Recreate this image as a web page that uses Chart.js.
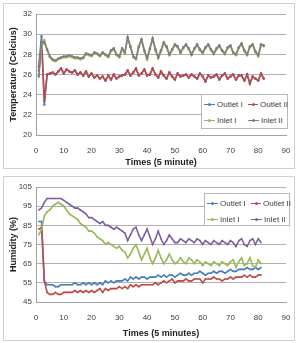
<!DOCTYPE html>
<html lang="en">
<head>
    <meta charset="UTF-8">
    <title>Temperature and Humidity</title>
    <script src="https://cdn.jsdelivr.net/npm/chart.js"></script>
    <style>
        body { margin: 0; background: #fff; width: 298px; height: 343px; position: relative; overflow: hidden; }
        .frame { position: absolute; border: 1px solid #d0d0d0; background: #fff; }
        .frame canvas { position: absolute; left: 0; top: 0; }
        .legend {
            position: absolute; border: 1px solid #b8b8b8; background: #fff;
            font-family: "Liberation Sans Narrow", "Liberation Sans", Arial, sans-serif;
            font-size: 8px; color: #404040;
            display: grid; grid-template-columns: 44px 40px; row-gap: 7px;
            padding: 5px 0 5px 2px; box-sizing: border-box;
        }
        .legend span { display: flex; align-items: center; white-space: nowrap; }
        .legend i { display: inline-block; width: 11px; height: 1.5px; margin-right: 2px; position: relative; }
        .legend i::after { content: ""; position: absolute; left: 4px; top: -1px; width: 3px; height: 3px; border-radius: 50%; background: inherit; }
    </style>
</head>
<body>
    <div class="frame" style="left:3px;top:3px;width:290px;height:164px;">
        <canvas id="tempChart" width="290" height="164"></canvas>
        <div class="legend" style="left:197px;top:90px;width:87px;height:35px;">
            <span><i style="background:#4a7ebb"></i>Outlet I</span>
            <span><i style="background:#be4b48"></i>Outlet II</span>
            <span><i style="background:#98b954"></i>Inlet I</span>
            <span><i style="background:#7f7f7f"></i>Inlet II</span>
        </div>
    </div>
    <div class="frame" style="left:3px;top:176px;width:290px;height:163px;">
        <canvas id="humChart" width="290" height="163"></canvas>
        <div class="legend" style="left:200px;top:16px;width:86px;height:33px;">
            <span><i style="background:#4a7ebb"></i>Outlet I</span>
            <span><i style="background:#be4b48"></i>Outlet II</span>
            <span><i style="background:#98b954"></i>Inlet I</span>
            <span><i style="background:#7d60a0"></i>Inlet II</span>
        </div>
    </div>

    <script>
        // Temperature chart, x = 1..82
        const tempOutlet1 = [26.8, 29.8, 23.0, 26.0, 26.1, 26.2, 26.0, 26.3, 26.6, 26.1, 26.5, 26.3, 26.2, 26.4, 26.0, 26.2, 25.9, 26.3, 25.8, 26.1,
            25.7, 25.9, 25.6, 25.8, 25.4, 25.9, 25.5, 26.0, 25.6, 25.8, 25.9, 26.0, 26.4, 25.9, 26.2, 26.6, 25.9, 26.1, 26.5, 25.9,
            26.0, 26.6, 26.0, 25.7, 26.3, 25.9, 25.6, 26.2, 25.8, 25.5, 26.1, 25.8, 25.9, 26.0, 25.7, 26.0, 25.8, 25.6, 26.1, 25.8,
            25.3, 25.9, 25.7, 25.8, 26.0, 25.5, 25.9, 26.1, 25.6, 25.8, 26.0, 25.5, 25.9, 25.9, 25.4, 26.0, 25.1, 25.8, 25.6, 25.4,
            26.1, 25.6];
        const tempOutlet2 = [26.4, 29.2, 23.4, 26.0, 26.1, 26.2, 26.0, 26.3, 26.6, 26.1, 26.5, 26.3, 26.2, 26.4, 26.0, 26.2, 25.9, 26.3, 25.8, 26.1,
            25.7, 25.9, 25.6, 25.8, 25.4, 25.9, 25.5, 26.0, 25.6, 25.8, 25.9, 26.0, 26.4, 25.9, 26.2, 26.6, 25.9, 26.1, 26.5, 25.9,
            26.0, 26.6, 26.0, 25.7, 26.3, 25.9, 25.6, 26.2, 25.8, 25.5, 26.1, 25.8, 25.9, 26.0, 25.7, 26.0, 25.8, 25.6, 26.1, 25.8,
            25.3, 25.9, 25.7, 25.8, 26.0, 25.5, 25.9, 26.1, 25.6, 25.8, 26.0, 25.5, 25.9, 25.9, 25.4, 26.0, 25.1, 25.8, 25.6, 25.4,
            26.1, 25.6];
        const tempInlet1 = [26.0, 28.6, 29.4, 28.4, 27.7, 27.4, 27.3, 27.5, 27.6, 27.7, 27.7, 27.8, 27.7, 27.6, 27.6, 27.5, 27.6, 28.0, 27.9, 27.8,
            28.1, 28.0, 27.8, 28.1, 27.9, 27.7, 28.3, 28.5, 27.9, 27.7, 28.5, 28.1, 29.6, 28.7, 27.7, 27.5, 28.7, 29.4, 28.3, 27.5,
            28.5, 29.5, 28.4, 27.6, 28.3, 29.1, 28.7, 27.9, 28.4, 28.9, 28.7, 28.1, 28.6, 28.9, 28.5, 27.9, 28.5, 28.9, 28.4, 28.1,
            28.6, 28.9, 28.4, 28.0, 28.5, 28.8, 28.3, 28.0, 28.6, 28.8, 28.1, 27.9, 28.6, 29.0, 28.3, 27.9, 28.7, 28.9, 28.2, 27.8,
            28.9, 28.8];
        const tempInlet2 = [25.8, 29.2, 29.2, 28.5, 27.8, 27.5, 27.4, 27.6, 27.7, 27.8, 27.8, 27.9, 27.8, 27.7, 27.7, 27.6, 27.7, 28.1, 28.0, 27.9,
            28.2, 28.1, 27.9, 28.2, 28.0, 27.8, 28.4, 28.6, 28.0, 27.8, 28.6, 28.2, 29.7, 28.8, 27.8, 27.6, 28.8, 29.5, 28.4, 27.6,
            28.6, 29.6, 28.5, 27.7, 28.4, 29.2, 28.8, 28.0, 28.5, 29.0, 28.8, 28.2, 28.7, 29.0, 28.6, 28.0, 28.6, 29.0, 28.5, 28.2,
            28.7, 29.0, 28.5, 28.1, 28.6, 28.9, 28.4, 28.1, 28.7, 28.9, 28.2, 28.0, 28.7, 29.1, 28.4, 28.0, 28.8, 29.0, 28.3, 27.9,
            29.0, 28.9];

        // Humidity chart, x = 1..81
        const humOutlet1 = [87, 87, 56, 54, 54, 54, 53, 53, 54, 54, 54, 54, 54, 55, 54, 54, 55, 54, 55, 54,
            55, 54, 55, 54, 56, 55, 56, 55, 56, 56, 56, 57, 56, 58, 57, 58, 57, 58, 58, 57,
            58, 58, 58, 59, 58, 59, 58, 59, 59, 58, 59, 60, 59, 59, 60, 59, 60, 60, 61, 60,
            59, 60, 60, 61, 60, 61, 61, 60, 61, 62, 61, 61, 62, 62, 62, 63, 62, 62, 63, 62, 63];
        const humOutlet2 = [83, 84, 56, 50, 49, 49, 50, 49, 49, 50, 50, 50, 50, 51, 50, 51, 50, 51, 50, 51,
            50, 51, 52, 50, 52, 51, 52, 52, 52, 53, 52, 53, 52, 54, 53, 54, 53, 54, 54, 54,
            54, 54, 55, 54, 55, 56, 55, 56, 57, 55, 56, 56, 56, 57, 56, 56, 57, 57, 57, 55,
            57, 57, 57, 58, 57, 57, 56, 57, 57, 58, 57, 58, 58, 58, 59, 58, 59, 58, 58, 59, 59];
        const humInlet1 = [80, 83, 90, 92, 93, 95, 96, 97, 96, 95, 93, 91, 90, 89, 88, 86, 85, 84, 82, 82,
            81, 79, 78, 77, 75, 76, 75, 74, 73, 74, 72, 71, 68, 70, 73, 75, 71, 67, 70, 73,
            68, 65, 68, 72, 68, 65, 67, 70, 67, 65, 66, 68, 66, 65, 68, 67, 65, 67, 66, 64,
            66, 65, 64, 66, 65, 64, 66, 65, 64, 66, 67, 63, 66, 68, 64, 65, 68, 64, 63, 67, 65];
        const humInlet2 = [93, 94, 97, 99, 99, 99, 99, 99, 99, 98, 97, 96, 95, 94, 94, 93, 92, 91, 89, 89,
            88, 87, 86, 87, 85, 85, 84, 83, 84, 83, 82, 81, 77, 80, 83, 84, 80, 77, 80, 83,
            79, 75, 78, 82, 78, 75, 77, 80, 78, 76, 76, 78, 77, 76, 78, 77, 76, 78, 77, 75,
            77, 76, 75, 77, 76, 75, 77, 76, 75, 77, 76, 74, 77, 78, 75, 74, 77, 78, 75, 78, 76];

        const FONT = '"Liberation Sans Narrow", "Liberation Sans", Arial, sans-serif';

        function xy(values) {
            return values.map((v, i) => ({ x: i + 1, y: v }));
        }

        // later series are drawn on top, like the spreadsheet original
        function series(label, values, color, radius, order) {
            return {
                label: label,
                data: xy(values),
                borderColor: color,
                backgroundColor: color,
                borderWidth: 1.6,
                pointRadius: radius,
                pointBorderWidth: 0,
                tension: 0,
                order: order
            };
        }

        function makeChart(id, datasets, yMin, yMax, yStep, yTitle, xTitle, yWidth, xHeight, titleBottom) {
            return new Chart(document.getElementById(id), {
                type: 'line',
                data: { datasets: datasets },
                options: {
                    responsive: false,
                    animation: false,
                    layout: { padding: { top: 10, right: 8, left: 0, bottom: 0 } },
                    plugins: { legend: { display: false }, tooltip: { enabled: false } },
                    scales: {
                        x: {
                            type: 'linear', min: 0, max: 90,
                            ticks: { stepSize: 10, color: '#404040', font: { family: FONT, size: 8 }, padding: 3 },
                            grid: { display: false },
                            border: { display: true, color: '#a0a0a0' },
                            title: { display: true, text: xTitle, color: '#202020', font: { family: FONT, size: 9, weight: 'bold' }, padding: { top: 4, bottom: titleBottom } },
                            afterFit: function (s) { s.height = xHeight; }
                        },
                        y: {
                            min: yMin, max: yMax,
                            ticks: { stepSize: yStep, color: '#404040', font: { family: FONT, size: 8 }, padding: 4 },
                            grid: { color: '#b0b0b0', drawTicks: false },
                            border: { display: true, color: '#a0a0a0' },
                            title: { display: true, text: yTitle, color: '#202020', font: { family: FONT, size: 9, weight: 'bold' }, padding: { bottom: 2 } },
                            afterFit: function (s) { s.width = yWidth; }
                        }
                    }
                }
            });
        }

        makeChart('tempChart', [
            series('Outlet I', tempOutlet1, '#4a7ebb', 1.2, 4),
            series('Outlet II', tempOutlet2, '#be4b48', 1.2, 3),
            series('Inlet I', tempInlet1, '#98b954', 1.2, 2),
            series('Inlet II', tempInlet2, '#7f7f7f', 1.2, 1)
        ], 20, 32, 2, 'Temperature (Celcius)', 'Times (5 minute)', 32, 33, 0);

        makeChart('humChart', [
            series('Outlet I', humOutlet1, '#4a7ebb', 0.8, 4),
            series('Outlet II', humOutlet2, '#be4b48', 0.8, 3),
            series('Inlet I', humInlet1, '#98b954', 0.8, 2),
            series('Inlet II', humInlet2, '#7d60a0', 0.8, 1)
        ], 45, 105, 10, 'Humidity (%)', 'Times (5 minutes)', 32, 38, 1);
    </script>
</body>
</html>
